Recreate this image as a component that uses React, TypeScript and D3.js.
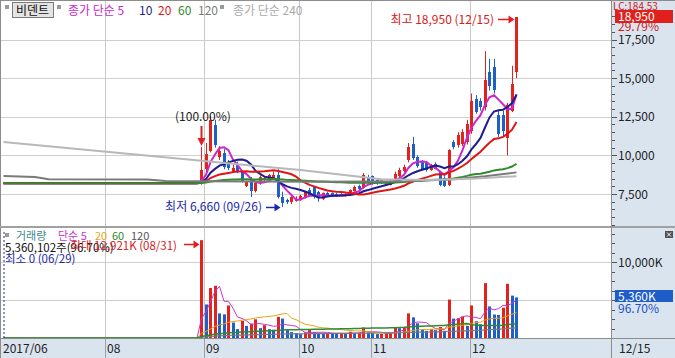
import React from 'react';
import * as d3 from 'd3';

// ---- data ----
const HALT_PRICE = 8190; // flat price while trading was halted (06/29 – 08/30)
const HALT_DAYS = 44;
const FUTURE_SLOTS = 20;

// daily candles from 2017/08/31 to 2017/12/15
const opens = [8190, 9100, 10300, 11950, 9900, 10150, 9450, 8950, 9350, 8900, 8050, 8500, 7700, 8200, 8400, 8500, 8550, 8700, 7300, 7100, 6950, 7050, 7150, 7250, 7750, 7950, 7650, 7200, 7560, 7550, 7500, 7500, 7400, 7450, 7700, 8000, 7900, 8600, 8650, 8400, 8350, 8300, 8100, 8400, 8650, 9000, 9700, 10750, 9900, 9600, 9500, 9050, 9450, 8900, 8550, 8100, 10850, 10650, 10750, 10850, 11600, 13650, 13550, 13100, 15400, 15700, 12600, 12600, 11100, 12900, 15400];
const highs = [10550, 10800, 12550, 12300, 10600, 10400, 9700, 9400, 9600, 9000, 8350, 8600, 8300, 8700, 8650, 8800, 8950, 9100, 7650, 7200, 7350, 7350, 7450, 7700, 7900, 8000, 7700, 7600, 7650, 7600, 7580, 7550, 7550, 7800, 8050, 8100, 8850, 8750, 8700, 8450, 8400, 8350, 8400, 8950, 9200, 9400, 10800, 11200, 10000, 9700, 9600, 9450, 9550, 9000, 8650, 10400, 11000, 11500, 11700, 12300, 14000, 13900, 13700, 16750, 16250, 16250, 12900, 12900, 13400, 15800, 18950];
const lows = [8100, 8900, 10200, 10500, 9700, 9100, 9050, 8900, 8850, 8250, 7950, 7300, 7600, 8100, 8350, 8400, 8500, 7200, 6660, 6850, 6850, 7000, 7050, 7200, 7350, 7200, 7000, 7100, 7300, 7300, 7300, 7350, 7350, 7400, 7650, 7750, 7850, 8200, 8100, 8100, 8150, 8150, 8050, 8350, 8550, 8900, 9550, 9700, 9200, 9050, 8950, 9000, 9100, 8000, 7950, 8000, 10400, 10500, 10600, 10700, 11400, 12700, 12900, 12900, 14200, 14000, 11200, 11200, 10000, 12800, 15000];
const closes = [9050, 10100, 12300, 10650, 10300, 9250, 9200, 9200, 8950, 8350, 8250, 7700, 8200, 8600, 8550, 8700, 8750, 7300, 6900, 6950, 7300, 7200, 7350, 7600, 7450, 7350, 7250, 7550, 7350, 7400, 7380, 7400, 7500, 7750, 7950, 7800, 8700, 8300, 8200, 8200, 8200, 8230, 8350, 8800, 9050, 9250, 10550, 9800, 9300, 9150, 9050, 9350, 9150, 8100, 8000, 10350, 10550, 11300, 11500, 12050, 13550, 12800, 13100, 14850, 14500, 14200, 11400, 11600, 13250, 14600, 18950];
// volume in thousand shares, 08/31 – 12/15
const volumesK = [12921, 4430, 6600, 6900, 3250, 3125, 4300, 2040, 1170, 2250, 1600, 1900, 2470, 1300, 1690, 1170, 1100, 2780, 2560, 1040, 780, 650, 520, 740, 1040, 780, 700, 530, 650, 640, 620, 650, 530, 830, 650, 680, 1390, 740, 650, 520, 540, 560, 650, 1380, 1300, 1320, 3250, 2730, 1950, 1170, 950, 1170, 1040, 1450, 950, 5080, 2560, 2600, 2830, 1600, 4300, 2210, 1820, 7250, 4170, 3100, 3050, 4000, 7160, 5600, 5360];

// long moving averages (need history before the visible range): read at points
const ma120Points: [number, number][] = [[0, 8660], [7, 8600], [10, 8450], [32, 8440], [36, 8340], [44, 8330], [70, 8300], [90, 8330], [100, 8450], [107, 8650], [114, 8900]];
const ma240Points: [number, number][] = [[0, 10870], [44, 9650], [66, 9050], [84, 8450], [95, 8400], [105, 8500], [114, 8650]];

const monthTicks = [
  { index: 0, label: '2017/06', grid: false },
  { index: 23, label: '08', grid: true },
  { index: 45, label: '09', grid: true },
  { index: 66, label: '10', grid: true },
  { index: 82, label: '11', grid: true },
  { index: 104, label: '12', grid: true },
];
const priceTicks = [7500, 10000, 12500, 15000, 17500];
const volumeGridTicks = [5000, 10000];
const volumeLabelTicks = [10000];

const FONT = "'Noto Sans CJK KR', 'Noto Sans', sans-serif";
const UP = '#e3211d';
const DOWN = '#1f5fc8';
const PANEL = '#dae4ef';
const C = {
  ma5: '#cc27cc', ma10: '#1d1d8f', ma20: '#e01515', ma60: '#2e8b2e', ma120: '#7a7a7a', ma240: '#b8b8b8',
  v5: '#cc33cc', v20: '#e8a317', v60: '#2e8b2e', v120: '#7a7a7a',
};

function sma(arr: number[], len: number, pad: number): number[] {
  return arr.map((_, i) => {
    let s = 0;
    for (let k = i - len + 1; k <= i; k++) s += k < 0 ? pad : arr[k];
    return s / len;
  });
}

export default function App() {
  const n = HALT_DAYS + closes.length;
  const slots = n + FUTURE_SLOTS;
  const x = d3.scaleBand<number>().domain(d3.range(slots)).range([1.25, 1.25 + 4.5 * slots]);
  const cx = (i: number) => (x(i) as number) + x.bandwidth() / 2;
  const y = d3.scaleLinear().domain([7500, 17500]).range([194, 39.5]);
  const yv = d3.scaleLinear().domain([0, 10000]).range([338, 262.3]);

  const closesAll = d3.range(n).map(i => (i < HALT_DAYS ? HALT_PRICE : closes[i - HALT_DAYS]));
  const volsAll = d3.range(n).map(i => (i < HALT_DAYS ? 0 : volumesK[i - HALT_DAYS]));

  const line = d3.line<number>().x((_, i) => cx(i)).y(v => y(v));
  const lineV = d3.line<number>().x((_, i) => cx(i)).y(v => yv(v));
  const linePts = d3.line<[number, number]>().x(d => cx(d[0])).y(d => y(d[1]));

  const ma5 = sma(closesAll, 5, HALT_PRICE);
  const ma10 = sma(closesAll, 10, HALT_PRICE);
  const ma20 = sma(closesAll, 20, HALT_PRICE);
  const ma60 = sma(closesAll, 60, HALT_PRICE);
  const v5 = sma(volsAll, 5, 0);
  const v20 = sma(volsAll, 20, 0);
  const v60 = sma(volsAll, 60, 0);
  const v120 = sma(volsAll, 120, 0);

  const gridX = (i: number) => Math.round((x(i) as number) + 0.5) + 0.5;
  const lastClose = closes[closes.length - 1];
  const lastVol = volumesK[volumesK.length - 1];

  const minorPrice = d3.range(5500, 19500, 500).filter(p => y(p) > 1 && y(p) < 226);
  const minorVol = d3.range(0, 14000, 1250).filter(v => yv(v) > 229 && yv(v) < 338);

  const iHigh = HALT_DAYS + highs.indexOf(d3.max(highs) as number);
  const iLow = HALT_DAYS + lows.indexOf(d3.min(lows) as number);
  const iVolMax = HALT_DAYS + volumesK.indexOf(d3.max(volumesK) as number);

  const text = (props: any, s: string) => (
    <text fontFamily={FONT} fontSize={12} {...props}>{s}</text>
  );

  return (
    <div style={{ position: 'absolute', left: 0, top: 0 }}>
      <svg width={675} height={358} style={{ display: 'block' }}>
        <defs>
          <clipPath id="mainClip"><rect x={1} y={1} width={610} height={225} /></clipPath>
          <clipPath id="volClip"><rect x={1} y={229} width={610} height={109.5} /></clipPath>
        </defs>
        <rect x={0} y={0} width={675} height={358} fill="#ffffff" />
        {/* right axis panel and bottom axis strip */}
        <rect x={611} y={0} width={64} height={358} fill={PANEL} />
        <rect x={0} y={339} width={675} height={19} fill={PANEL} />

        {/* horizontal grid */}
        {priceTicks.map(p => (
          <line key={'gp' + p} x1={1} x2={611} y1={Math.round(y(p)) + 0.5} y2={Math.round(y(p)) + 0.5} stroke="#cfcfcf" />
        ))}
        {volumeGridTicks.map(v => (
          <line key={'gv' + v} x1={1} x2={611} y1={Math.round(yv(v)) + 0.5} y2={Math.round(yv(v)) + 0.5} stroke="#cfcfcf" />
        ))}
        {/* vertical month grid */}
        {monthTicks.filter(t => t.grid).map(t => (
          <line key={'gx' + t.index} x1={gridX(t.index)} x2={gridX(t.index)} y1={1} y2={358} stroke="#c8c8c8" />
        ))}
        {monthTicks.filter(t => t.grid).map(t => (
          <line key={'gxa' + t.index} x1={gridX(t.index)} x2={gridX(t.index)} y1={339} y2={358} stroke="#9aa3ad" />
        ))}

        {/* price panel */}
        <g clipPath="url(#mainClip)">
          {closes.map((c, k) => {
            const i = HALT_DAYS + k;
            const o = opens[k];
            const col = c >= o ? UP : DOWN;
            const bx = Math.round(cx(i) - 1.5);
            const top = Math.round(y(Math.max(o, c)));
            const bot = Math.round(y(Math.min(o, c)));
            return (
              <g key={'c' + i}>
                <line x1={bx + 1.5} x2={bx + 1.5} y1={y(highs[k])} y2={y(lows[k])} stroke={col} strokeWidth={1} />
                <rect x={bx} y={top} width={3} height={Math.max(1, bot - top)} fill={col} />
              </g>
            );
          })}
          <path d={line(ma5) || ''} fill="none" stroke={C.ma5} strokeWidth={2} />
          <path d={line(ma10) || ''} fill="none" stroke={C.ma10} strokeWidth={2} />
          <path d={line(ma20) || ''} fill="none" stroke={C.ma20} strokeWidth={2} />
          <path d={line(ma60) || ''} fill="none" stroke={C.ma60} strokeWidth={2} />
          <path d={linePts(ma120Points) || ''} fill="none" stroke={C.ma120} strokeWidth={2} />
          <path d={linePts(ma240Points) || ''} fill="none" stroke={C.ma240} strokeWidth={2} />
        </g>

        {/* price annotations */}
        {text({ x: 175, y: 121, fill: '#222' }, '(100.00%)')}
        <line x1={cx(HALT_DAYS)} x2={cx(HALT_DAYS)} y1={126} y2={139} stroke="#e02020" strokeWidth={2} />
        <path d={`M${cx(HALT_DAYS) - 4},${138} L${cx(HALT_DAYS) + 4},${138} L${cx(HALT_DAYS)},${y(highs[0]) - 1} Z`} fill="#e02020" />

        {text({ x: 494, y: 24, fill: '#d42020', textAnchor: 'end' }, `최고 ${d3.format(',')(d3.max(highs) as number)} (12/15)`)}
        <line x1={498} x2={cx(iHigh) - 7} y1={19.5} y2={19.5} stroke="#e02020" strokeWidth={1.5} />
        <path d={`M${cx(iHigh) - 8},15.5 L${cx(iHigh) - 2},19.5 L${cx(iHigh) - 8},23.5 Z`} fill="#e02020" />

        {text({ x: 262, y: 211, fill: '#1a2aa8', textAnchor: 'end' }, `최저 ${d3.format(',')(d3.min(lows) as number)} (09/26)`)}
        <line x1={266} x2={cx(iLow) - 7} y1={y(lows[iLow - HALT_DAYS]) + 0.5} y2={y(lows[iLow - HALT_DAYS]) + 0.5} stroke="#1a2ab0" strokeWidth={1.5} />
        <path d={`M${cx(iLow) - 8},${y(6660) - 3.5} L${cx(iLow) - 2},${y(6660) + 0.5} L${cx(iLow) - 8},${y(6660) + 4.5} Z`} fill="#1a2ab0" />

        {/* volume panel */}
        <g clipPath="url(#volClip)">
          {volumesK.map((v, k) => {
            const i = HALT_DAYS + k;
            const prev = k === 0 ? 0 : volumesK[k - 1];
            const col = v >= prev ? UP : DOWN;
            return <rect key={'v' + i} x={Math.round(cx(i) - 1.5)} y={yv(v)} width={3} height={yv(0) - yv(v)} fill={col} />;
          })}
          <path d={lineV(v5) || ''} fill="none" stroke={C.v5} strokeWidth={1} />
          <path d={lineV(v20) || ''} fill="none" stroke={C.v20} strokeWidth={1} />
          <path d={lineV(v120) || ''} fill="none" stroke={C.v120} strokeWidth={1.2} />
          <path d={lineV(v60) || ''} fill="none" stroke={C.v60} strokeWidth={1.5} />
          <line x1={cx(0) + 0.5} x2={cx(0) + 0.5} y1={232} y2={338} stroke="#1a2ab0" strokeDasharray="2,2" />
        </g>

        {/* volume legend & annotations */}
        <rect x={5} y={233} width={4} height={4} fill="#999" />
        {text({ x: 16, y: 240, fill: '#3f8a8c', fontSize: 11 }, '거래량')}
        {text({ x: 58, y: 240, fill: C.v5, fontSize: 11 }, '단순 5')}
        {text({ x: 95, y: 240, fill: C.v20, fontSize: 11 }, '20')}
        {text({ x: 112, y: 240, fill: C.v60, fontSize: 11 }, '60')}
        {text({ x: 131, y: 240, fill: '#555', fontSize: 11 }, '120')}
        {text({ x: 5, y: 251.5, fill: '#111', fontSize: 11.5 }, `${d3.format(',')(lastVol * 1000 + 102)}주(96.70%)`)}
        {text({ x: 177, y: 250, fill: '#d42020', textAnchor: 'end', fontSize: 11.5 }, `최대 ${d3.format(',')(d3.max(volumesK) as number)}K (08/31)`)}
        <line x1={184} x2={cx(iVolMax) - 7} y1={244.5} y2={244.5} stroke="#e02020" strokeWidth={1.5} />
        <path d={`M${cx(iVolMax) - 8},240.5 L${cx(iVolMax) - 2},244.5 L${cx(iVolMax) - 8},248.5 Z`} fill="#e02020" />
        {text({ x: 5, y: 263, fill: '#1a2aa8', fontSize: 11.5 }, '최소 0 (06/29)')}

        {/* top legend */}
        <rect x={5} y={5} width={4} height={4} fill="#999" />
        <rect x={12.5} y={2.5} width={41} height={15} fill="#e4e4e4" stroke="#7a7a7a" />
        {text({ x: 16, y: 15, fill: '#111' }, '비덴트')}
        <rect x={57} y={5} width={4} height={4} fill="#999" />
        {text({ x: 68, y: 15, fill: C.ma5 }, '종가 단순 5')}
        {text({ x: 139, y: 15, fill: C.ma10 }, '10')}
        {text({ x: 158, y: 15, fill: C.ma20 }, '20')}
        {text({ x: 178, y: 15, fill: C.ma60 }, '60')}
        {text({ x: 198, y: 15, fill: C.ma120 }, '120')}
        <rect x={220} y={5} width={4} height={4} fill="#999" />
        {text({ x: 233, y: 15, fill: '#aaaaaa' }, '종가 단순 240')}

        {/* borders */}
        <rect x={0} y={0} width={675} height={1} fill="#8c8c8c" />
        <rect x={0} y={0} width={1} height={358} fill="#8c8c8c" />
        <rect x={0} y={226} width={675} height={2} fill="#a0a0a0" />
        <rect x={0} y={338} width={675} height={1} fill="#8c8c8c" />
        <rect x={611} y={0} width={1} height={358} fill="#8c8c8c" />

        {/* price axis */}
        {minorPrice.map(p => (
          <line key={'tp' + p} x1={612} x2={p % 2500 === 0 ? 617 : 615} y1={Math.round(y(p)) + 0.5} y2={Math.round(y(p)) + 0.5} stroke="#555" />
        ))}
        {priceTicks.map(p => text({ key: 'lp' + p, x: 618, y: y(p) + 4.5, fill: '#222' }, d3.format(',')(p)))}
        {text({ x: 613, y: 9.5, fill: '#d02020', fontSize: 10 }, 'LC:184.53')}
        <rect x={615} y={Math.round(y(lastClose)) - 7} width={58} height={13} fill="#e0201c" />
        {text({ x: 618, y: Math.round(y(lastClose)) + 4, fill: '#ffffff' }, d3.format(',')(lastClose))}
        {text({ x: 618, y: 31, fill: '#d02020' }, '29.79%')}

        {/* volume axis */}
        {minorVol.map(v => (
          <line key={'tv' + v} x1={612} x2={v % 5000 === 0 ? 617 : 615} y1={Math.round(yv(v)) + 0.5} y2={Math.round(yv(v)) + 0.5} stroke="#555" />
        ))}
        {volumeLabelTicks.map(v => text({ key: 'lv' + v, x: 618, y: yv(v) + 4.5, fill: '#222' }, `${d3.format(',')(v)}K`))}
        <rect x={615} y={Math.round(yv(lastVol)) - 7} width={58} height={12} fill="#1e5cc8" />
        {text({ x: 618, y: Math.round(yv(lastVol)) + 3.5, fill: '#ffffff' }, `${d3.format(',')(lastVol)}K`)}
        {text({ x: 618, y: 313, fill: '#2050c8' }, '96.70%')}
        <rect x={665} y={231} width={8} height={7} fill="#505050" />
        <path d="M667,232.5 L671,236.5 M671,232.5 L667,236.5" stroke="#fff" strokeWidth={1} />

        {/* x axis labels */}
        {monthTicks.map(t => text({ key: 'lx' + t.index, x: t.grid ? gridX(t.index) + 1.5 : 3, y: 353, fill: '#222' }, t.label))}
        {text({ x: 619, y: 353, fill: '#222' }, '12/15')}
      </svg>
    </div>
  );
}
